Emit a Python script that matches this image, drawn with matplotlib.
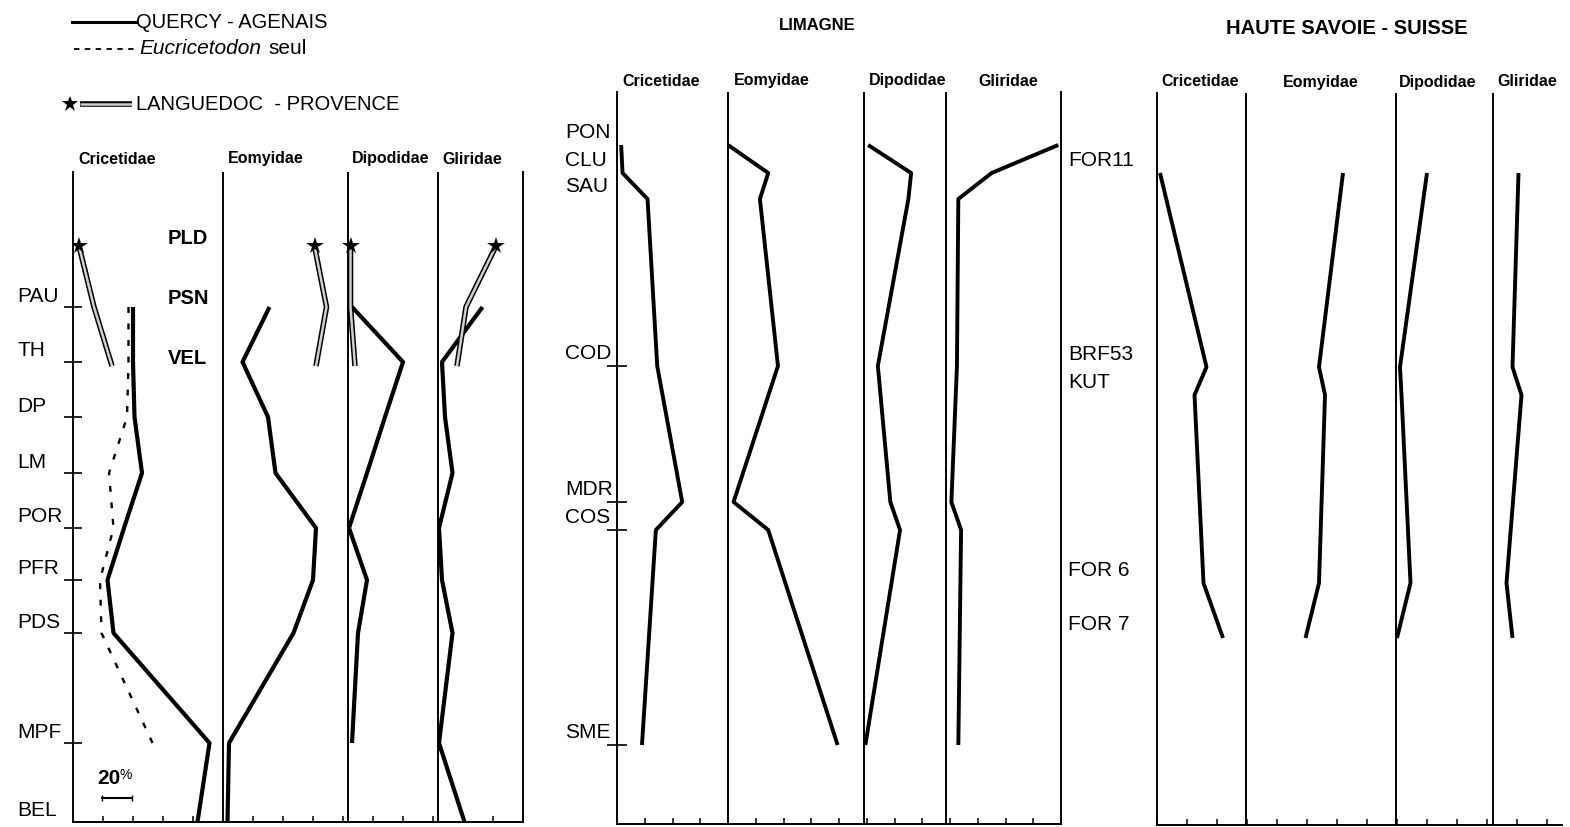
import numpy as np
import matplotlib.pyplot as plt

plt.rcParams['font.family'] = ['Liberation Sans', 'DejaVu Sans']

families = ["Cricetidae", "Eomyidae", "Dipodidae", "Gliridae"]

# Quercy - Agenais (percent of each family)
quercy_sites = ["PAU", "TH", "DP", "LM", "POR", "PFR", "PDS", "MPF", "BEL"]
quercy_level = [307, 362, 417, 473, 528, 580, 633, 743, 822]
quercy_cric = [40, 40, 41, 46, 34, 23, 27, 91, 83]
quercy_eomy = [31, 13, 30, 35, 62, 60, 47, 4, 3]
quercy_dipo = [3, 37, 25, 13, 1, 13, 7, 3, np.nan]
quercy_glir = [30, 3, 5, 10, 1, 3, 10, 1, 18]
eucricetodon = [37, 37, 36, 24, 27, 18, 19, 53, np.nan]

# Languedoc - Provence
langue_sites = ["PLD", "PSN", "VEL"]
langue_level = [246, 307, 366]
langue_cric = [4, 14, 26]
langue_eomy = [61, 69, 62]
langue_dipo = [2, 2, 5]
langue_glir = [39, 19, 13]

# Limagne
limagne_sites = ["PON", "CLU", "SAU", "COD", "MDR", "COS", "SME"]
limagne_level = [145, 173, 199, 366, 502, 530, 745]
limagne_cric = [3, 4, 22, 29, 47, 28, 18]
limagne_eomy = [0, 29, 23, 36, 4, 29, 79]
limagne_dipo = [3, 34, 32, 10, 19, 26, 1]
limagne_glir = [81, 33, 9, 8, 4, 11, 9]

# Haute Savoie - Suisse
savoie_sites = ["FOR11", "BRF53", "KUT", "FOR 6", "FOR 7"]
savoie_level = [173, 367, 395, 583, 638]
savoie_cric = [2, 33, 25, 31, 44]
savoie_eomy = [65, 49, 53, 49, 40]
savoie_dipo = [21, 3, 4, 10, 1]
savoie_glir = [17, 13, 19, 9, 13]

W, H = 1570, 827
fig = plt.figure(figsize=(W / 100, H / 100), dpi=100)
bg = fig.add_axes([0, 0, 1, 1])
bg.set_xlim(0, W)
bg.set_ylim(H, 0)
bg.axis('off')


def panel(x0, x1, y0, y1, xmax, offsets, right=True):
    ax = fig.add_axes([x0 / W, 1 - y1 / H, (x1 - x0) / W, (y1 - y0) / H])
    ax.patch.set_alpha(0)
    ax.set_xlim(0, xmax)
    ax.set_ylim(y1, y0)
    ax.spines['top'].set_visible(False)
    ax.spines['right'].set_visible(right)
    for s in ('left', 'right', 'bottom'):
        ax.spines[s].set_linewidth(1.4)
    ax.set_xticks(np.arange(0, xmax + 1, 20))
    ax.tick_params(axis='x', direction='in', length=4, width=1.1, labelbottom=False)
    ax.tick_params(axis='y', direction='inout', length=13, width=1.2, labelleft=False)
    ax.set_yticks([])
    for off in offsets[1:]:
        ax.axvline(off, color='k', lw=1.4)
    return ax


def series(ax, offsets, level, cols, lw=2.9):
    for off, vals in zip(offsets, cols):
        ax.plot(off + np.array(vals, dtype=float), level, color='k', lw=lw,
                solid_capstyle='butt', solid_joinstyle='round')


def hollow(ax, x, y, star=True):
    ax.plot(x, y, color='k', lw=4.0, solid_capstyle='butt')
    ax.plot(x, y, color='#cfcfcf', lw=1.8, solid_capstyle='butt')
    if star:
        ax.plot(x[0], y[0], marker='*', ms=13, color='k', mew=0)


# ---- panel 1 : Quercy / Languedoc
q_off = [0, 100, 183, 243]
ax1 = panel(73, 523, 172, 822, 300, q_off)
series(ax1, q_off, quercy_level, [quercy_cric, quercy_eomy, quercy_dipo, quercy_glir], lw=3.0)
ax1.plot(eucricetodon, quercy_level, color='k', lw=1.7, ls=(0, (2.5, 4.5)))
for off, vals in zip(q_off, [langue_cric, langue_eomy, langue_dipo, langue_glir]):
    hollow(ax1, off + np.array(vals, dtype=float), langue_level)
ax1.set_yticks(quercy_level[:-1])
for s, lev in zip(quercy_sites, quercy_level):
    ax1.text(-37, lev - 11, s, ha='left', va='center', fontsize=15)
for s, lev in zip(langue_sites, langue_level):
    ax1.text(63, lev - 8, s, ha='left', va='center', fontsize=14.5, fontweight='bold')
# 20 % scale bar
ax1.plot([19, 39], [798, 798], color='k', lw=1.5, marker='|', ms=5)
ax1.text(16, 778, "20", fontsize=15, fontweight='bold', va='center', ha='left')
ax1.text(31, 775, "%", fontsize=10, va='center', ha='left')

# ---- panel 2 : Limagne
l_off = [0, 80, 178, 237]
ax2 = panel(617, 1061, 92, 824, 320, l_off)
series(ax2, l_off, limagne_level, [limagne_cric, limagne_eomy, limagne_dipo, limagne_glir], lw=2.8)
ax2.set_yticks(limagne_level[3:])
ax2.tick_params(axis='y', length=15)
for s, lev in zip(limagne_sites, limagne_level):
    ax2.text(-37.5, lev - 13, s, ha='left', va='center', fontsize=15)

# ---- panel 3 : Haute Savoie - Suisse
s_off = [0, 59, 159, 224]
ax3 = panel(1157, 1562, 93, 825, 270, s_off, right=False)
series(ax3, s_off, savoie_level, [savoie_cric, savoie_eomy, savoie_dipo, savoie_glir], lw=2.8)
for s, lev in zip(savoie_sites, savoie_level):
    ax3.text(-59.3, lev - 13, s, ha='left', va='center', fontsize=15)

# ---- column titles
for name, xc in zip(families, [117, 266, 391, 472]):
    bg.text(xc, 159, name, ha='center', va='center', fontsize=11.5, fontweight='bold')
for name, xc in zip(families, [661, 772, 908, 1008]):
    bg.text(xc, 81, name, ha='center', va='center', fontsize=11.5, fontweight='bold')
for name, xc in zip(families, [1200, 1321, 1438, 1527]):
    bg.text(xc, 82, name, ha='center', va='center', fontsize=11.5, fontweight='bold')

bg.text(817, 25, "LIMAGNE", ha='center', va='center', fontsize=12, fontweight='bold')
bg.text(1347, 28, "HAUTE SAVOIE - SUISSE", ha='center', va='center', fontsize=14.5,
        fontweight='bold')

# ---- legend
bg.plot([72, 136], [22, 22], color='k', lw=2.2)
bg.text(136, 22, "QUERCY - AGENAIS", va='center', ha='left', fontsize=14.5)
bg.plot([74, 134], [49, 49], color='k', lw=1.3, ls=(0, (3, 3)))
bg.text(139, 49, "Eucricetodon", va='center', ha='left', fontsize=15, style='italic')
bg.text(268, 49, "seul", va='center', ha='left', fontsize=15)
hollow(bg, np.array([80, 132]), np.array([104, 104]), star=False)
bg.plot([70], [104], marker='*', ms=12, color='k', mew=0)
bg.text(136, 104, "LANGUEDOC  - PROVENCE", va='center', ha='left', fontsize=14.5)

fig.savefig("out.png", dpi=100, facecolor='white')
